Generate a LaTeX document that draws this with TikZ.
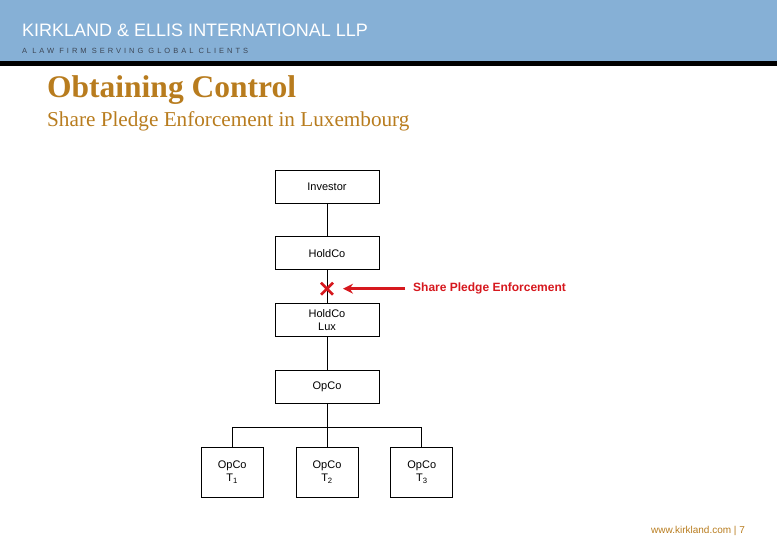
\documentclass[tikz,border=0pt]{standalone}
\usepackage{fontspec}
\setmainfont{Liberation Sans}
\newfontfamily\slideserif{Liberation Serif}
\usetikzlibrary{
  arrows.meta,
  positioning,
  calc
}
\definecolor{headBlue}{RGB}{134,176,214}
\definecolor{titleGold}{RGB}{184,124,30}
\definecolor{pledgeRed}{RGB}{214,24,30}
\definecolor{tagGrey}{RGB}{60,70,85}
\tikzset{
  entity/.style={
    draw,
    line width=0.8pt,
    minimum width=104pt,
    minimum height=33pt,
    inner sep=1pt,
    align=center,
    font=\fontsize{11}{13}\selectfont
  },
  opco/.style={
    entity,
    minimum width=62pt,
    minimum height=50pt
  },
  link/.style={line width=0.8pt}
}

\begin{document}
\begin{tikzpicture}[x=1pt,y=-1pt,>=Stealth,node distance=33pt]
    \useasboundingbox (0,0) rectangle (777,540);

    % header
    \fill[headBlue] (0,0) rectangle (777,61);
    \fill[black] (0,61) rectangle (777,66);
    \node[anchor=base west,inner sep=0pt,text=white,font=\fontsize{18}{20}\selectfont]
      (firm) at (22,37) {KIRKLAND \& ELLIS INTERNATIONAL LLP};
    \node[anchor=base west,inner sep=0pt,text=tagGrey,font=\fontsize{7.5}{8}\selectfont\addfontfeatures{LetterSpace=40}]
      (tagline) at (22,54) {A LAW FIRM SERVING GLOBAL CLIENTS};

    % titles
    \node[anchor=base west,inner sep=0pt,text=titleGold,font=\slideserif\bfseries\fontsize{31.5}{33}\selectfont]
      (title) at (47,98) {Obtaining Control};
    \node[anchor=base west,inner sep=0pt,text=titleGold,font=\slideserif\fontsize{21.2}{23}\selectfont]
      (subtitle) at (47,127) {Share Pledge Enforcement in Luxembourg};

    % chart
    \node[entity] (inv) at (327,186.5) {Investor};
    \node[entity,below=of inv] (hold) {HoldCo};
    \node[entity,below=of hold] (lux) {HoldCo\\Lux};
    \node[entity,below=of lux] (op) {OpCo};
    \node[opco] (t2) at (327,472) {OpCo\\T\textsubscript{2}};
    \node[opco,left=32pt of t2] (t1) {OpCo\\T\textsubscript{1}};
    \node[opco,right=32pt of t2] (t3) {OpCo\\T\textsubscript{3}};

    \draw[link] (inv) -- (hold);
    \draw[link] (hold) -- (lux);
    \draw[link] (lux) -- (op);
    \coordinate (bus) at ($(op.south)+(0,24)$);
    \draw[link] (op) -- (bus);
    \draw[link] (t1.north) |- (bus) -| (t3.north);
    \draw[link] (bus) -- (t2);

    % enforcement
    \coordinate (cut) at ($(hold.south)+(0,18.5)$);
    \draw[pledgeRed,line width=2.6pt] ($(cut)+(-6,-6)$) -- ($(cut)+(6,6)$)
      ($(cut)+(-6,6)$) -- ($(cut)+(6,-6)$);
    \node[anchor=west,inner sep=0pt,text=pledgeRed,font=\bfseries\fontsize{12}{14}\selectfont]
      (pledge) at ($(cut)+(86,0)$) {Share Pledge Enforcement};
    \coordinate (tip) at ($(cut)+(16,0)$);
    \draw[-{Stealth[length=10pt,width=10pt]},pledgeRed,line width=2.4pt] ($(pledge.west)+(-8,0)$) -- (tip);

    % footer
    \node[anchor=base west,inner sep=0pt,text=titleGold,font=\fontsize{10}{12}\selectfont]
      (web) at (651,533) {www.kirkland.com | 7};
\end{tikzpicture}
\end{document}
